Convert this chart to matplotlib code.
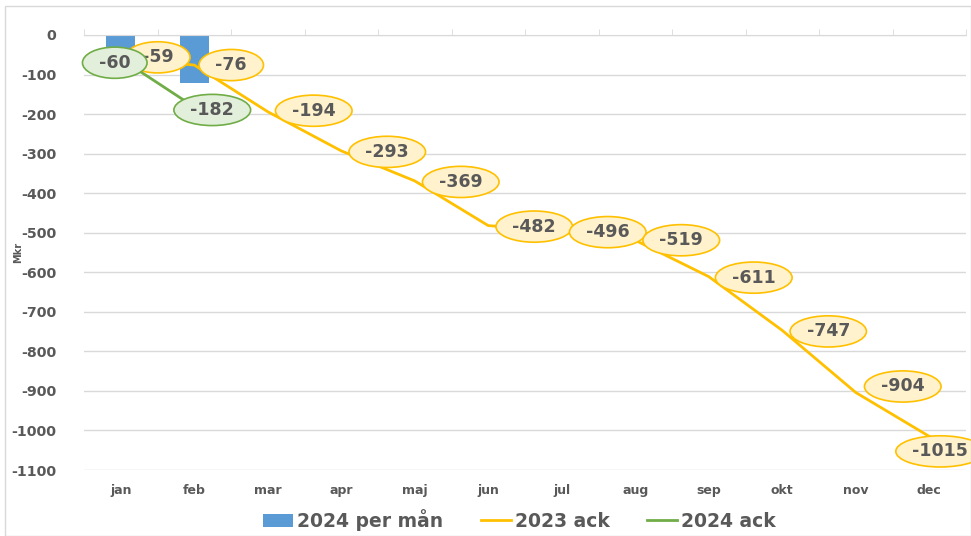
import matplotlib
matplotlib.use("Agg")
import matplotlib.pyplot as plt
from matplotlib.patches import Rectangle
from matplotlib.path import Path
from matplotlib.transforms import Affine2D
import numpy as np

months = ["jan", "feb", "mar", "apr", "maj", "jun", "jul", "aug", "sep", "okt", "nov", "dec"]
per_man_2024 = [-60, -122]
ack_2023 = [-59, -76, -194, -293, -369, -482, -496, -519, -611, -747, -904, -1015]
ack_2024 = [-60, -182]
yticks = [0, -100, -200, -300, -400, -500, -600, -700, -800, -900, -1000, -1100]

# label offsets in pixels (style only)
off_2023 = [(37, 1), (37, 0), (46, 1), (46, -1), (46, -1), (46, -1), (46, -1), (46, 0), (45, -1), (46, -1), (47, 6), (11, -15)]
off_2024 = [(-6, -4), (18, -3)]

TXT = "#595959"
YEL = "#FFC000"
GRN = "#70AD47"
BLU = "#5B9BD5"


def flat_ellipse(x0, y0, width, height, mutation_size):
    a = width / 2 + 0.95 * mutation_size
    b = height / 2 + 0.38 * mutation_size
    cx, cy = x0 + width / 2, y0 + height / 2
    return Affine2D().scale(a, b).translate(cx, cy).transform_path(Path.unit_circle())


fig = plt.figure(figsize=(9.71, 5.36), dpi=100)
ax = fig.add_axes([84 / 971, 1 - 470 / 536, 882 / 971, 435 / 536])

x = np.arange(len(months))
hb = ax.bar(x[:len(per_man_2024)], per_man_2024, width=0.4, color=BLU, zorder=2, label="2024 per mån")
h23, = ax.plot(x, ack_2023, color=YEL, lw=2, zorder=3, label="2023 ack")
h24, = ax.plot(x[:len(ack_2024)], ack_2024, color=GRN, lw=2, zorder=3, label="2024 ack")

for xi, v, o in zip(x, ack_2023, off_2023):
    ax.annotate(str(v), (xi, v), xytext=o, textcoords="offset pixels", ha="center", va="center",
                fontsize=12.5, fontweight="bold", color=TXT, zorder=5, annotation_clip=False,
                bbox=dict(boxstyle=flat_ellipse, fc="#FFF2CC", ec=YEL, lw=1.2))
for xi, v, o in zip(x, ack_2024, off_2024):
    ax.annotate(str(v), (xi, v), xytext=o, textcoords="offset pixels", ha="center", va="center",
                fontsize=12.5, fontweight="bold", color=TXT, zorder=6, annotation_clip=False,
                bbox=dict(boxstyle=flat_ellipse, fc="#E2EFDA", ec=GRN, lw=1.2))

ax.set_xlim(-0.5, len(months) - 0.5)
ax.set_ylim(-1100, 0)
ax.set_yticks(yticks)
ax.set_yticklabels([str(t) for t in yticks], fontsize=10.2, fontweight="bold", color=TXT)
ax.set_xticks(x)
ax.set_xticklabels(months, fontsize=9, fontweight="bold", color=TXT)
ax.tick_params(axis="x", length=0, pad=10)
ax.tick_params(axis="y", length=0, pad=20)
ax.set_xticks(np.arange(-0.5, len(months), 1), minor=True)
ax.tick_params(axis="x", which="minor", top=True, bottom=False, length=4, color="#D9D9D9", direction="out")
ax.grid(axis="y", color="#D9D9D9", lw=1, zorder=0)
ax.set_axisbelow(True)
for s in ["left", "right", "bottom"]:
    ax.spines[s].set_visible(False)
ax.spines["top"].set_color("#D9D9D9")

fig.text(18 / 971, 1 - 252 / 536, "Mkr", rotation=90, fontsize=7, fontweight="bold", color=TXT,
         ha="center", va="center")

leg = fig.legend([hb, h23, h24], ["2024 per mån", "2023 ack", "2024 ack"], loc="center",
                 bbox_to_anchor=(0.535, 1 - 520 / 536), ncol=3, frameon=False,
                 prop=dict(size=13.5, weight="bold"), handlelength=1.6, columnspacing=2.0, handletextpad=0.2)
for t in leg.get_texts():
    t.set_color(TXT)

fig.patches.append(Rectangle((5 / 971, 0), 1 - 5 / 971, 1 - 6 / 536, transform=fig.transFigure,
                             fill=False, ec="#D9D9D9", lw=1))

fig.savefig("out.png", dpi=100)
